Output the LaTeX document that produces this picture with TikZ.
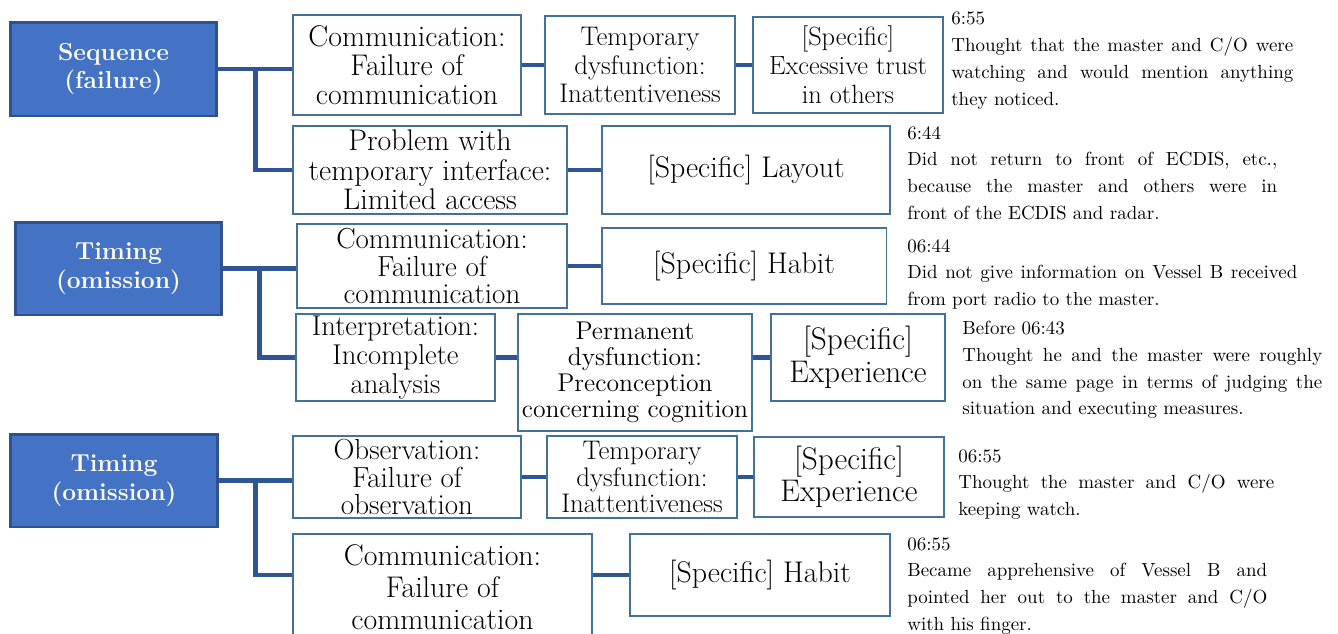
\documentclass[tikz,border=0pt]{standalone}
\usepackage{fontspec}
\usepackage{tikz}
\usetikzlibrary{calc,positioning}
\definecolor{headblue}{HTML}{4472C4}
\definecolor{headedge}{HTML}{2F528F}
\definecolor{boxedge}{HTML}{41719C}
\definecolor{linkblue}{HTML}{2F5597}
\tolerance=9999
\hbadness=10000

\begin{document}
\begin{tikzpicture}[
		x=0.02cm, y=-0.02cm,
		head/.style={rectangle, draw=headedge, fill=headblue, line width=1.7pt, text=white, align=center, inner sep=0pt, font=\fontsize{14}{16.4}\selectfont\bfseries},
		box/.style={rectangle, draw=boxedge, fill=white, line width=1.1pt, align=center, inner sep=0pt, font=\fontsize{17}{16.4}\selectfont},
		small/.style={font=\fontsize{15.3}{16.4}\selectfont},
		note/.style={anchor=north west, inner sep=0pt, align=justify, font=\fontsize{10.8}{15.2}\selectfont},
		link/.style={draw=linkblue, line width=2.8pt}
	]
	\useasboundingbox (0,0) rectangle (1338,633);
	\clip (0,0) rectangle (1338,633);

	% First group: sequence (failure)
	\node (seq) [head, minimum width=4.14cm, minimum height=1.88cm] at (113.5,69) {Sequence\\(failure)};
	\node (a1) [box, minimum width=4.56cm, minimum height=2cm] at (407,65) {Communication:\\Failure of\\communication};
	\node (a2) [box, small, minimum width=3.8cm, minimum height=1.96cm] at (640,65) {Temporary\\dysfunction:\\Inattentiveness};
	\node (a3) [box, font=\fontsize{15}{16.4}\selectfont, minimum width=3.8cm, minimum height=1.92cm] at (848,65) {[Specific]\\Excessive trust\\in others};
	\node (b1) [box, font=\fontsize{17}{16.7}\selectfont, minimum width=5.48cm, minimum height=1.76cm] at (430,170) {Problem with\\temporary interface:\\Limited access};
	\node (b2) [box, minimum width=5.76cm, minimum height=1.76cm] at (746,170) {[Specific] Layout};

	% Second group: timing (omission)
	\node (tim1) [head, minimum width=4.14cm, minimum height=1.86cm] at (118.5,268.5) {Timing\\(omission)};
	\node (c1) [box, font=\fontsize{16.5}{15.6}\selectfont, minimum width=5.4cm, minimum height=1.68cm] at (432,266) {Communication:\\Failure of\\communication};
	\node (c2) [box, minimum width=5.7cm, minimum height=1.52cm] at (744,266) {[Specific] Habit};
	\node (d1) [box, font=\fontsize{16.3}{16.4}\selectfont, minimum width=3.98cm, minimum height=1.74cm] at (395.5,357.5) {Interpretation:\\Incomplete\\analysis};
	\node (d2) [box, font=\fontsize{14.6}{14.9}\selectfont, minimum width=4.68cm, minimum height=2.34cm] at (635,372.5) {Permanent\\dysfunction:\\Preconception\\concerning cognition};
	\node (d3) [box, font=\fontsize{17.8}{18.7}\selectfont, minimum width=3.48cm, minimum height=1.74cm] at (858,357.5) {[Specific]\\Experience};

	% Third group: timing (omission)
	\node (tim2) [head, minimum width=4.16cm, minimum height=1.86cm] at (114,480.5) {Timing\\(omission)};
	\node (e1) [box, font=\fontsize{16.5}{15.6}\selectfont, minimum width=4.56cm, minimum height=1.64cm] at (407,477) {Observation:\\Failure of\\observation};
	\node (e2) [box, font=\fontsize{15.3}{15}\selectfont, minimum width=3.8cm, minimum height=1.64cm] at (642,477) {Temporary\\dysfunction:\\Inattentiveness};
	\node (e3) [box, font=\fontsize{17.8}{18.1}\selectfont, minimum width=3.8cm, minimum height=1.6cm] at (849,477) {[Specific]\\Experience};
	\node (f1) [box, font=\fontsize{17}{18.1}\selectfont, minimum width=5.98cm, minimum height=2.12cm] at (442.5,587) {Communication:\\Failure of\\communication};
	\node (f2) [box, minimum width=5.2cm, minimum height=1.64cm] at (760,575) {[Specific] Habit};

	% Notes
	\node (n1) [note, text width=6.84cm] at (951,12) {6:55\\Thought that the master and C/O were\linebreak watching and would mention anything\linebreak they noticed.};
	\node (n2) [note, text width=7.4cm] at (907,126) {6:44\\Did not return to front of ECDIS, etc.,\linebreak because the master and others were in\linebreak front of the ECDIS and radar.};
	\node (n3) [note, text width=7.8cm] at (907,239) {06:44\\Did not give information on Vessel B received\linebreak from port radio to the master.};
	\node (n4) [note, text width=7.2cm] at (962,321) {Before 06:43\\Thought he and the master were roughly\linebreak on the same page in terms of judging the\linebreak situation and executing measures.};
	\node (n5) [note, text width=6.32cm] at (958,449) {06:55\\Thought the master and C/O were\linebreak keeping watch.};
	\node (n6) [note, text width=7.2cm] at (907,537) {06:55\\Became apprehensive of Vessel B and\linebreak pointed her out to the master and C/O\linebreak with his finger.};

	% Lines
	\draw [link] (seq.east) -- (seq.east -| a1.west);
	\draw [link] ($(seq.east)!0.5!(seq.east -| a1.west)$) |- (b1.west);
	\draw [link] (a1.east) -- (a2.west);
	\draw [link] (a2.east) -- (a3.west);
	\draw [link] (b1.east) -- (b2.west);

	\draw [link] (tim1.east) -- (tim1.east -| c1.west);
	\draw [link] ($(tim1.east)!0.5!(tim1.east -| c1.west)$) |- (d1.west);
	\draw [link] (c1.east) -- (c2.west);
	\draw [link] (d1.east) -- (d1.east -| d2.west);
	\draw [link] (d3.west -| d2.east) -- (d3.west);

	\draw [link] (tim2.east) -- (tim2.east -| e1.west);
	\draw [link] ($(tim2.east)!0.5!(tim2.east -| e1.west)$) |- (f2.west -| f1.west);
	\draw [link] (e1.east) -- (e2.west);
	\draw [link] (e2.east) -- (e3.west);
	\draw [link] (f2.west -| f1.east) -- (f2.west);
\end{tikzpicture}
\end{document}
